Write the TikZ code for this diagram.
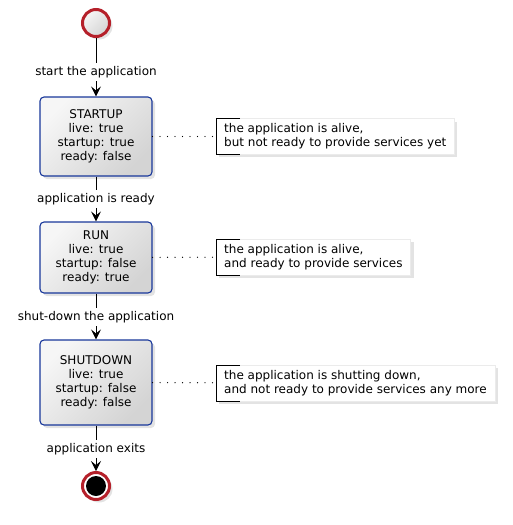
\documentclass[tikz,border=0pt]{standalone}
\usepackage{fontspec}
\setmainfont{DejaVu Sans}
\usetikzlibrary{arrows.meta,shadows,positioning}

\begin{document}
\begin{tikzpicture}[x=1pt,y=-1pt,
  every node/.style={font=\fontsize{12}{14}\selectfont},
  ombre/.style={drop shadow={opacity=0.22,shadow xshift=3pt,shadow yshift=-3pt}},
  etat/.style={draw=colcontour,line width=1.1pt,rounded corners=4pt,shading=axis,
    top color=colhaut,bottom color=colbas,shading angle=45,minimum width=112pt,
    align=center,inner sep=0pt,ombre},
  note/.style={draw=black!8,fill=white,align=left,anchor=west,inner xsep=8pt,
    inner ysep=5pt,ombre},
  etiquette/.style={inner xsep=2pt,inner ysep=3pt},
  fleche/.style={-{Stealth[length=10pt,width=10pt,inset=4pt]},line width=0.8pt},
  pointille/.style={line width=1.3pt,line cap=round,dash pattern=on 0pt off 7.5pt}]

%Couleurs
\definecolor{colcontour}{HTML}{18379A}
\definecolor{colhaut}{HTML}{F6F6F6}
\definecolor{colbas}{HTML}{D4D4D4}
\definecolor{colcercle}{HTML}{B5202A}

%Dimensions
\def \xaxe{96}
\def \xnote{216}
\def \rayon{27pt}

\useasboundingbox (0,0) rectangle (512,525);

%%% Debut %%%
\node[circle,draw=colcercle,line width=3pt,minimum size=\rayon,shading=axis,
  top color=colhaut,bottom color=colbas,shading angle=45,ombre] (debut) at (\xaxe,23) {};

%Etats
\node[etat,minimum height=79pt] (startup) at (\xaxe,136.5) {STARTUP\\live: true\\startup: true\\ready: false};
\node[etat,minimum height=71pt] (run) at (\xaxe,257.5) {RUN\\live: true\\startup: false\\ready: true};
\node[etat,minimum height=85pt] (shutdown) at (\xaxe,382.5) {SHUTDOWN\\live: true\\startup: false\\ready: false};

%%% Fin %%%
\node[circle,draw=colcercle,line width=3pt,minimum size=\rayon,fill=white,ombre] (fin) at (\xaxe,486) {};
\fill[black] (fin) circle (10);

%Transitions
\node[etiquette] (demarrage) at (\xaxe,72) {start the application};
\node[etiquette] (pret) at (\xaxe,199) {application is ready};
\node[etiquette] (arret) at (\xaxe,317) {shut-down the application};
\node[etiquette] (sortie) at (\xaxe,449) {application exits};

\draw[line width=0.8pt] (debut) -- (demarrage);
\draw[fleche] (demarrage) -- (startup);
\draw[line width=0.8pt] (startup) -- (pret);
\draw[fleche] (pret) -- (run);
\draw[line width=0.8pt] (run) -- (arret);
\draw[fleche] (arret) -- (shutdown);
\draw[line width=0.8pt] (shutdown) -- (sortie);
\draw[fleche] (sortie) -- (fin);

%Notes
\node[note] (nstartup) at (\xnote,136.5) {the application is alive,\\but not ready to provide services yet};
\node[note] (nrun) at (\xnote,257) {the application is alive,\\and ready to provide services};
\node[note] (nshutdown) at (\xnote,383) {the application is shutting down,\\and not ready to provide services any more};

\foreach \n in {nstartup,nrun,nshutdown}
  \draw[line width=0.9pt] ([xshift=24pt]\n.north west) -- (\n.north west) -- (\n.south west) -- ([xshift=24pt]\n.south west);

\draw[pointille] (startup) -- (nstartup);
\draw[pointille] (run) -- (nrun);
\draw[pointille] (shutdown) -- (nshutdown);

\end{tikzpicture}
\end{document}
